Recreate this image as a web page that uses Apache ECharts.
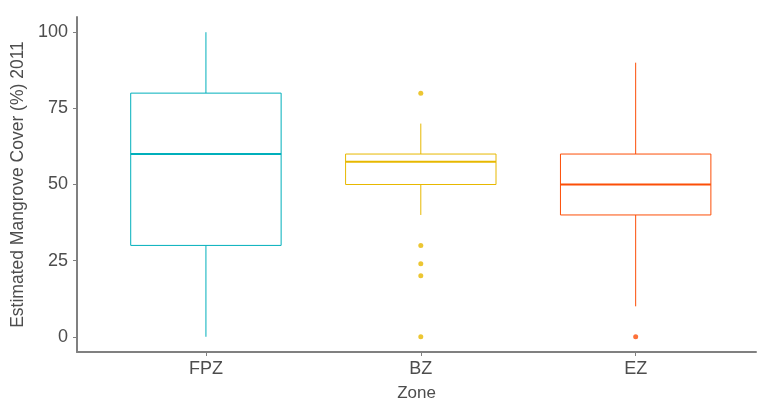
<!DOCTYPE html>
<html>
<head>
<meta charset="utf-8">
<script src="https://cdn.jsdelivr.net/npm/echarts@6/dist/echarts.min.js"></script>
<style>
  html, body { margin: 0; padding: 0; background: #fff; }
  #chart { width: 757px; height: 401px; }
</style>
</head>
<body>
<div id="chart"></div>
<script>
// Zones along the x axis
const zones = ['FPZ', 'BZ', 'EZ'];
// Box statistics per zone (% mangrove cover, 2011)
const whiskerLow = [0, 40, 10];
const q1 = [30, 50, 40];
const median = [60, 57.5, 50];
const q3 = [80, 60, 60];
const whiskerHigh = [100, 70, 90];
// Points beyond the whiskers
const outliers = [[], [80, 30, 24, 20, 0], [0]];
// y tick labels
const yTicks = [0, 25, 50, 75, 100];

const colors = ['#00AFBB', '#E7B800', '#FC4E07'];
const BOX_W = 0.7; // box width in x-axis units

const boxData = zones.map((z, i) => [i + 1, whiskerLow[i], q1[i], median[i], q3[i], whiskerHigh[i]]);
const outlierData = [];
outliers.forEach((arr, i) => arr.forEach(v => outlierData.push({ value: [i + 1, v], itemStyle: { color: colors[i] } })));

function renderBox(params, api) {
  const x = api.value(0);
  const lo = api.value(1), a = api.value(2), m = api.value(3), b = api.value(4), hi = api.value(5);
  const c = colors[params.dataIndex];
  const half = api.size([BOX_W, 0])[0] / 2;
  const pLo = api.coord([x, lo]);
  const pA = api.coord([x, a]);
  const pM = api.coord([x, m]);
  const pB = api.coord([x, b]);
  const pHi = api.coord([x, hi]);
  const cx = pA[0];
  return {
    type: 'group',
    children: [
      { type: 'line', shape: { x1: cx, y1: pHi[1], x2: cx, y2: pB[1] }, style: { stroke: c, lineWidth: 1 } },
      { type: 'line', shape: { x1: cx, y1: pA[1], x2: cx, y2: pLo[1] }, style: { stroke: c, lineWidth: 1 } },
      { type: 'rect', shape: { x: cx - half, y: pB[1], width: half * 2, height: pA[1] - pB[1] },
        style: { fill: '#fff', stroke: c, lineWidth: 1 } },
      { type: 'line', shape: { x1: cx - half, y1: pM[1], x2: cx + half, y2: pM[1] }, style: { stroke: c, lineWidth: 2 } }
    ]
  };
}

const axisColor = '#808080';
const textColor = '#4d4d4d';
const font = 'Liberation Sans, Arial, sans-serif';

const chart = echarts.init(document.getElementById('chart'), null, { renderer: 'canvas' });
chart.setOption({
  animation: false,
  backgroundColor: '#fff',
  grid: { left: 77, right: 1, top: 17, bottom: 49, outerBoundsMode: 'none', containLabel: false },
  xAxis: {
    type: 'value',
    min: 0.4,
    max: 3.56,
    name: 'Zone',
    nameLocation: 'middle',
    nameGap: 33,
    nameTextStyle: { color: textColor, fontSize: 17, fontFamily: font },
    splitLine: { show: false },
    axisLine: { show: true, onZero: false, lineStyle: { color: axisColor, width: 2 } },
    axisTick: { show: true, length: 4, customValues: [1, 2, 3], lineStyle: { color: axisColor } },
    axisLabel: {
      customValues: [1, 2, 3],
      formatter: v => zones[Math.round(v) - 1],
      color: textColor, fontSize: 18, fontFamily: font, margin: 8
    }
  },
  yAxis: {
    type: 'value',
    min: -5,
    max: 105,
    name: 'Estimated Mangrove Cover (%) 2011',
    nameLocation: 'middle',
    nameRotate: 90,
    nameGap: 46,
    nameTextStyle: { color: textColor, fontSize: 17.5, fontFamily: font },
    splitLine: { show: false },
    axisLine: { show: true, onZero: false, lineStyle: { color: axisColor, width: 2 } },
    axisTick: { show: true, length: 4, customValues: yTicks, lineStyle: { color: axisColor } },
    axisLabel: { customValues: yTicks, color: textColor, fontSize: 18, fontFamily: font, margin: 9 }
  },
  series: [
    {
      type: 'custom',
      renderItem: renderBox,
      encode: { x: 0, y: [1, 2, 3, 4, 5] },
      data: boxData,
      z: 2
    },
    {
      type: 'scatter',
      symbol: 'circle',
      symbolSize: 5,
      data: outlierData,
      z: 3
    }
  ]
});
</script>
</body>
</html>
